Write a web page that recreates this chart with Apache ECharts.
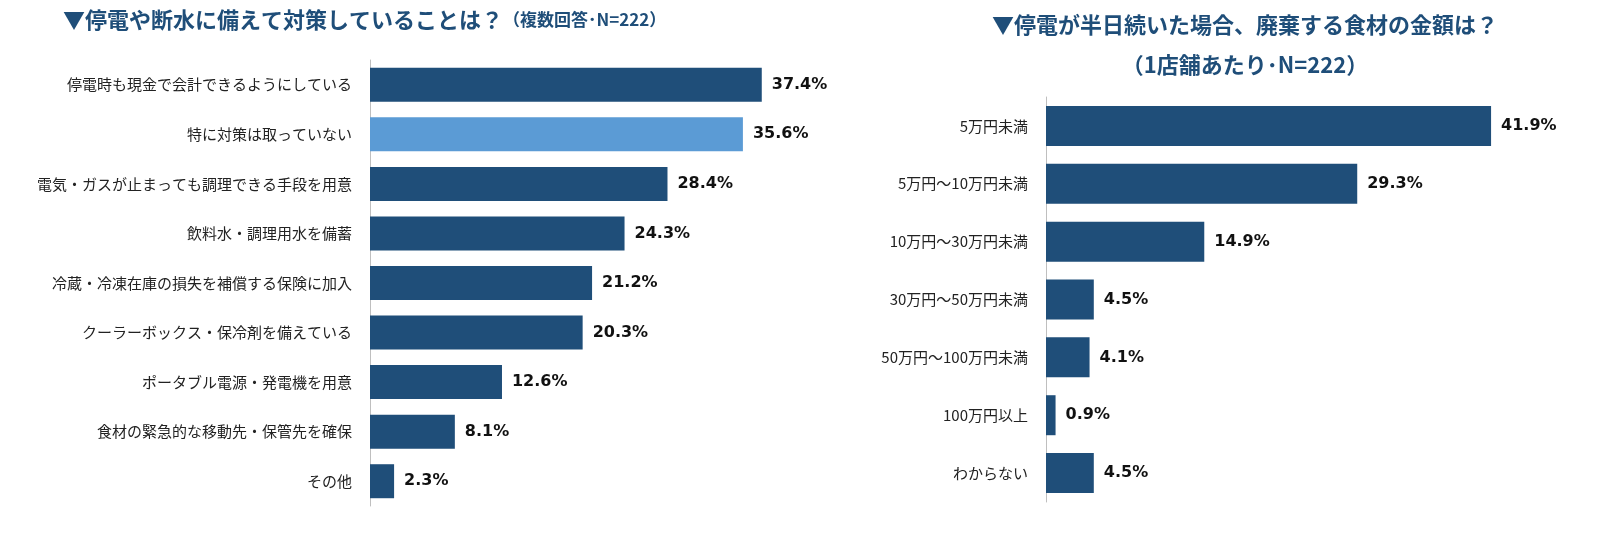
<!DOCTYPE html>
<html>
<head>
<meta charset="utf-8">
<script src="https://cdn.jsdelivr.net/npm/echarts@6/dist/echarts.min.js"></script>
<style>html,body{margin:0;background:#fff}#c{width:1604px;height:550px}</style>
</head>
<body>
<div id="c"></div>
<script>
var leftCats = ["停電時も現金で会計できるようにしている", "特に対策は取っていない", "電気・ガスが止まっても調理できる手段を用意", "飲料水・調理用水を備蓄", "冷蔵・冷凍在庫の損失を補償する保険に加入", "クーラーボックス・保冷剤を備えている", "ポータブル電源・発電機を用意", "食材の緊急的な移動先・保管先を確保", "その他"];
var leftVals = [37.4, 35.6, 28.4, 24.3, 21.2, 20.3, 12.6, 8.1, 2.3];
var rightCats = ["5万円未満", "5万円～10万円未満", "10万円～30万円未満", "30万円～50万円未満", "50万円～100万円未満", "100万円以上", "わからない"];
var rightVals = [41.9, 29.3, 14.9, 4.5, 4.1, 0.9, 4.5];

var dark = "#1F4E79", light = "#5B9BD5";
var font = "'Noto Sans CJK JP', 'Noto Sans', sans-serif";

function barData(vals, hiIndex) {
  return vals.map(function (v, i) {
    return { value: v, itemStyle: { color: i === hiIndex ? light : dark } };
  });
}
function yAxis(idx, cats) {
  return {
    type: "category", gridIndex: idx, data: cats, inverse: true,
    axisLine: { lineStyle: { color: "#bfbfbf" } }, axisTick: { show: false },
    axisLabel: { color: "#222", fontSize: 15, fontFamily: font, margin: 18 }
  };
}
function xAxis(idx, max) {
  return { type: "value", gridIndex: idx, min: 0, max: max, show: false, splitLine: { show: false } };
}
var lbl = { show: true, position: "right", formatter: "{c}%", color: "#111", fontSize: 16, fontWeight: "bold", fontFamily: "'DejaVu Sans', sans-serif", distance: 10 };

var chart = echarts.init(document.getElementById("c"));
chart.setOption({
  animation: false,
  title: [
    { text: "▼停電や断水に備えて対策していることは？{s|（複数回答･N=222）}", left: 58, top: 4,
      textStyle: { color: dark, fontSize: 22, fontWeight: "bold", fontFamily: font,
        rich: { s: { fontSize: 17, color: dark, fontWeight: "bold", fontFamily: font } } } },
    { text: "▼停電が半日続いた場合、廃棄する食材の金額は？\n（1店舗あたり･N=222）", left: 1240, top: 0, textAlign: "center",
      textStyle: { color: dark, fontSize: 22, fontWeight: "bold", fontFamily: font, lineHeight: 40, align: "center" } }
  ],
  grid: [
    { left: 370, top: 60, width: 419, height: 446, outerBoundsMode: "none", containLabel: false },
    { left: 1046, top: 97, width: 478, height: 405, outerBoundsMode: "none", containLabel: false }
  ],
  xAxis: [xAxis(0, 40), xAxis(1, 45)],
  yAxis: [yAxis(0, leftCats), yAxis(1, rightCats)],
  series: [
    { type: "bar", xAxisIndex: 0, yAxisIndex: 0, data: barData(leftVals, 1), barWidth: 34, label: lbl },
    { type: "bar", xAxisIndex: 1, yAxisIndex: 1, data: barData(rightVals, -1), barWidth: 40, label: lbl }
  ]
});
</script>
</body>
</html>
